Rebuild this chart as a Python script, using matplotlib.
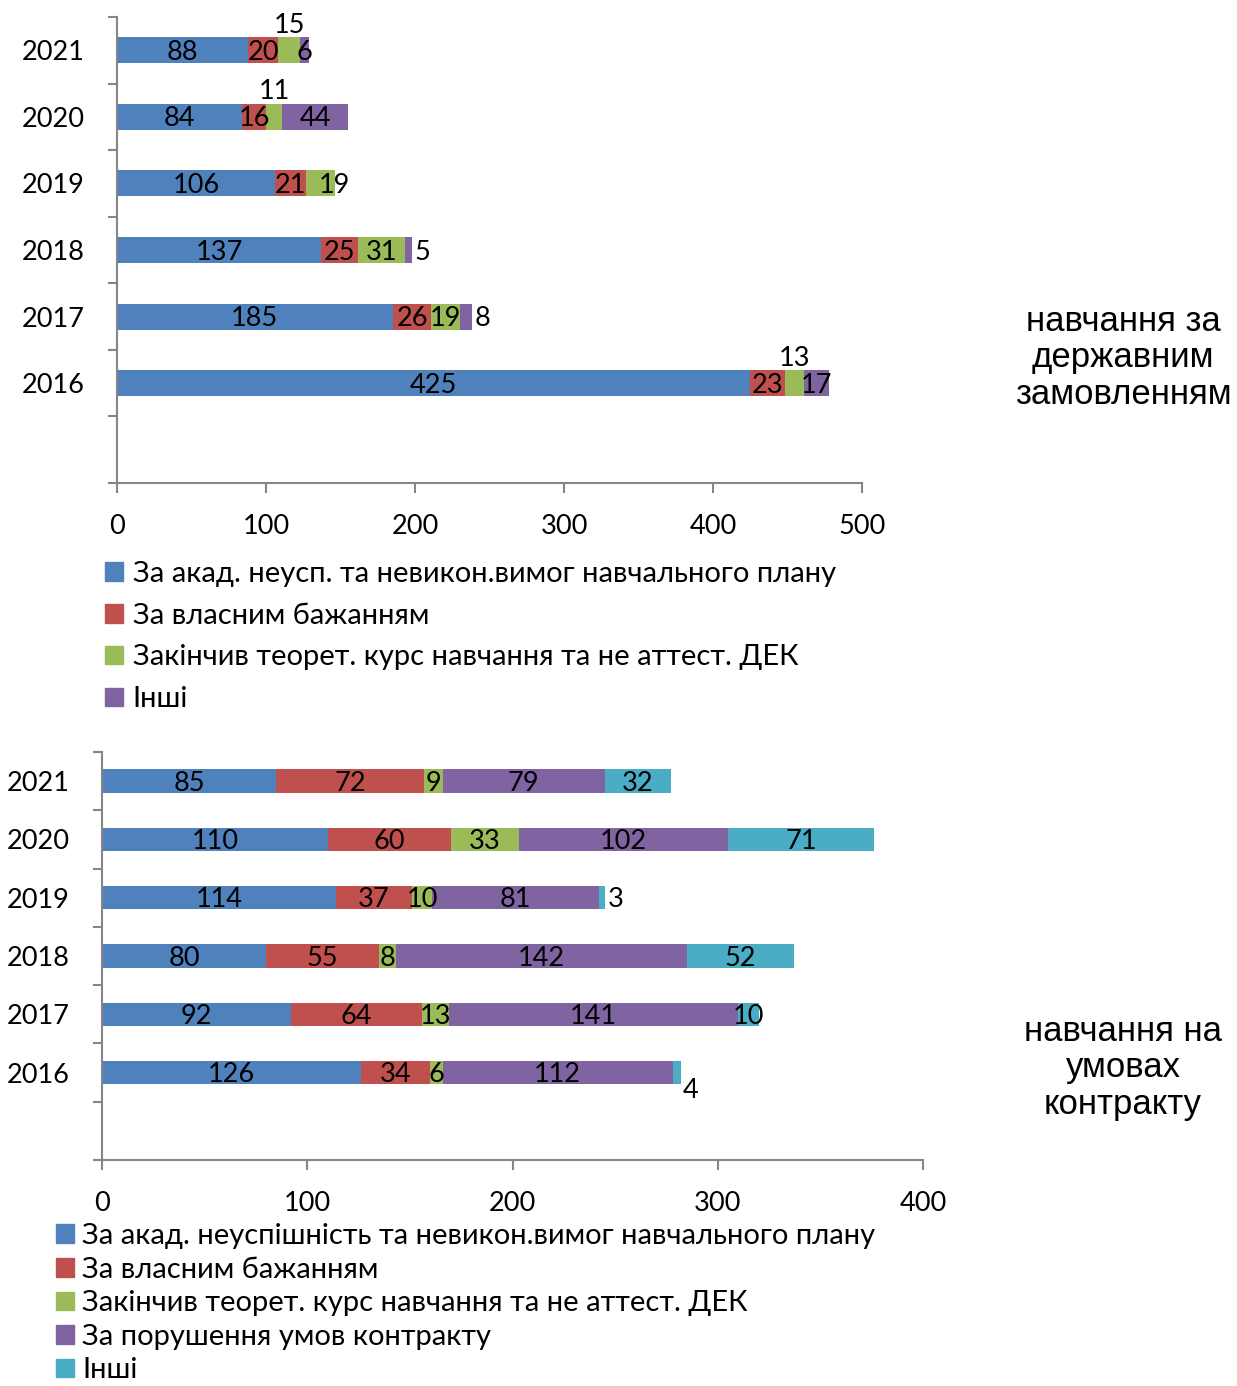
import matplotlib
matplotlib.use("Agg")
import matplotlib.pyplot as plt
from matplotlib.patches import Patch

plt.rcParams['font.family'] = ['Lato', 'Open Sans', 'DejaVu Sans']

years = ['2021', '2020', '2019', '2018', '2017', '2016']

# навчання за державним замовленням
state_names = ['За акад. неусп. та невикон.вимог навчального плану',
               'За власним бажанням',
               'Закінчив теорет. курс навчання та не аттест. ДЕК',
               'Інші']
state_acad = [88, 84, 106, 137, 185, 425]
state_own = [20, 16, 21, 25, 26, 23]
state_theory = [15, 11, 19, 31, 19, 13]
state_other = [6, 44, 0, 5, 8, 17]

# навчання на умовах контракту
contract_names = ['За акад. неуспішність та невикон.вимог навчального плану',
                  'За власним бажанням',
                  'Закінчив теорет. курс навчання та не аттест. ДЕК',
                  'За порушення умов контракту',
                  'Інші']
contract_acad = [85, 110, 114, 80, 92, 126]
contract_own = [72, 60, 37, 55, 64, 34]
contract_theory = [9, 33, 10, 8, 13, 6]
contract_breach = [79, 102, 81, 142, 141, 112]
contract_other = [32, 71, 3, 52, 10, 4]

colors = ['#4F81BD', '#C0504D', '#9BBB59', '#8064A2', '#4BACC6']
gray = '#868686'

# where a label does not sit in the middle of its segment: (series, year) -> mode
state_label_pos = {(2, 0): 'above', (2, 1): 'above', (2, 2): 'end',
                   (3, 3): 'right', (3, 4): 'right', (2, 5): 'above'}
contract_label_pos = {(4, 2): 'right', (4, 5): 'below_right'}

W, H = 1237, 1386
fig = plt.figure(figsize=(W / 100, H / 100), dpi=100)
LBL = 19.5


def draw(ax, series, special, xmax, bar_h):
    ys = [i + 0.5 for i in range(len(years))]
    left = [0] * len(years)
    for s, vals in enumerate(series):
        ax.barh(ys, vals, left=left, height=bar_h, color=colors[s],
                edgecolor='none')
        for i, v in enumerate(vals):
            if v == 0:
                continue
            mode = special.get((s, i), 'center')
            end = left[i] + v
            if mode == 'center':
                xy, off, ha = (left[i] + v / 2, ys[i]), (0, -1.5), 'center'
            elif mode == 'above':
                xy, off, ha = (left[i] + v / 2, ys[i]), (0, 18), 'center'
            elif mode == 'end':
                xy, off, ha = (end, ys[i]), (0, -1.5), 'center'
            elif mode == 'right':
                xy, off, ha = (end, ys[i]), (2, -1.5), 'left'
            else:
                xy, off, ha = (end, ys[i]), (7, -13), 'center'
            ax.annotate(str(v), xy, xytext=off, textcoords='offset points',
                        ha=ha, va='center', fontsize=LBL)
        left = [l + v for l, v in zip(left, vals)]

    ax.set_xlim(0, xmax)
    ax.set_ylim(len(years) + 1, 0)
    for sp in ['top', 'right']:
        ax.spines[sp].set_visible(False)
    for sp in ['left', 'bottom']:
        ax.spines[sp].set_color(gray)
        ax.spines[sp].set_linewidth(1.5)
    ax.set_yticks(range(len(years) + 2))
    ax.set_yticklabels([])
    ax.set_yticks(ys, minor=True)
    ax.set_yticklabels(years, minor=True, fontsize=19.5)
    ax.tick_params(axis='y', which='major', length=6.5, width=1.5, color=gray)
    ax.tick_params(axis='y', which='minor', length=0, pad=23)
    ax.set_xticks(range(0, xmax + 1, 100))
    ax.tick_params(axis='x', length=7, width=1.5, color=gray, labelsize=19.5,
                   pad=15)


ax1 = fig.add_axes([117 / W, 1 - 483 / H, (862 - 117) / W, (483 - 17) / H])
draw(ax1, [state_acad, state_own, state_theory, state_other],
     state_label_pos, 500, 0.39)

ax2 = fig.add_axes([102 / W, 1 - 1160 / H, (923 - 102) / W, (1160 - 752) / H])
draw(ax2, [contract_acad, contract_own, contract_theory, contract_breach,
           contract_other], contract_label_pos, 400, 0.4)

h1 = [Patch(color=c) for c in colors[:4]]
fig.legend(h1, state_names, loc='upper left', bbox_to_anchor=(105 / W, 1 - 561 / H),
           frameon=False, fontsize=21, handlelength=0.6, handleheight=0.6,
           handletextpad=0.35, labelspacing=0.54, borderpad=0, borderaxespad=0)

h2 = [Patch(color=c) for c in colors]
fig.legend(h2, contract_names, loc='upper left', bbox_to_anchor=(56 / W, 1 - 1223 / H),
           frameon=False, fontsize=21, handlelength=0.6, handleheight=0.6,
           handletextpad=0.3, labelspacing=0.26, borderpad=0, borderaxespad=0)

fig.text(1123 / W, 1 - 358 / H, 'навчання за\nдержавним\nзамовленням',
         ha='center', va='center', fontsize=25, family='Liberation Sans',
         linespacing=1.15)
fig.text(1123 / W, 1 - 1068 / H, 'навчання на\nумовах\nконтракту',
         ha='center', va='center', fontsize=25, family='Liberation Sans',
         linespacing=1.15)

fig.savefig('out.png', dpi=100)
